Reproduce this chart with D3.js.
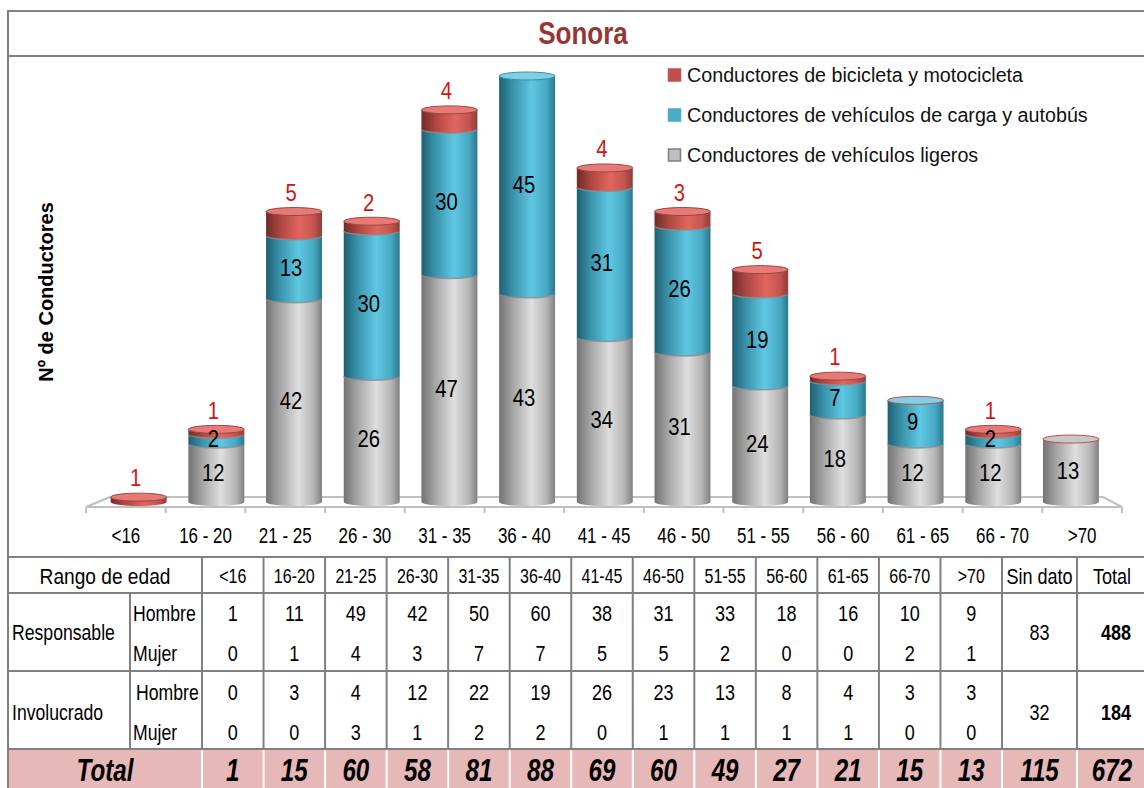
<!DOCTYPE html>
<html><head><meta charset="utf-8">
<script src="https://cdn.jsdelivr.net/npm/d3@7"></script>
<style>body{margin:0;background:#fff;}svg{display:block;font-family:"Liberation Sans",Arial,sans-serif;}</style>
</head><body>
<svg id="c" width="1144" height="788"></svg>
<script>
const categories = ["<16","16 - 20","21 - 25","26 - 30","31 - 35","36 - 40","41 - 45","46 - 50","51 - 55","56 - 60","61 - 65","66 - 70",">70"];
const seriesNames = ["Conductores de vehículos ligeros","Conductores de vehículos de carga y autobús","Conductores de bicicleta y motocicleta"];
const ligeros = [0,12,42,26,47,43,34,31,24,18,12,12,13];
const carga   = [0,2,13,30,30,45,31,26,19,7,9,2,0];
const bici    = [1,1,5,2,4,0,4,3,5,1,0,1,0];

const tableCols = ["<16","16-20","21-25","26-30","31-35","36-40","41-45","46-50","51-55","56-60","61-65","66-70",">70"];
const respHombre = [1,11,49,42,50,60,38,31,33,18,16,10,9];
const respMujer  = [0,1,4,3,7,7,5,5,2,0,0,2,1];
const invHombre  = [0,3,4,12,22,19,26,23,13,8,4,3,3];
const invMujer   = [0,0,3,1,2,2,0,1,1,1,1,0,0];
const sinDato = [83,32];
const totals = [488,184];
const totalRow = [1,15,60,58,81,88,69,60,49,27,21,15,13,115,672];

const svg = d3.select("#c");
const GRID = "#808080";

function txt(g, x, y, s, o) {
  o = o || {};
  const fs = o.fs || 18, sx = o.sx || 1;
  return g.append("text")
    .attr("transform", `translate(${x},${y}) scale(${sx},1)`)
    .attr("text-anchor", o.anchor || "middle")
    .attr("dy", "0.36em")
    .attr("font-size", fs)
    .attr("font-weight", o.bold ? "bold" : "normal")
    .attr("font-style", o.italic ? "italic" : "normal")
    .attr("fill", o.fill || "#000")
    .text(s);
}

// defs: gradients
const defs = svg.append("defs");
const palettes = [
  {id:"gGray", stops:[["0%","#737373"],["25%","#a6a6a6"],["58%","#dedede"],["85%","#b5b5b5"],["100%","#808080"]], cap:"#c8c8c8", line:"#8a8a8a"},
  {id:"gBlue", stops:[["0%","#1f6072"],["25%","#3a93ac"],["58%","#5fc7e2"],["85%","#47a8c3"],["100%","#2a778c"]], cap:"#7dd0e6", line:"#3b8da3"},
  {id:"gRed",  stops:[["0%","#702b29"],["25%","#ad4642"],["60%","#e2665f"],["85%","#c25550"],["100%","#903c38"]], cap:"#e77a74", line:"#9a4744"}
];
palettes.forEach(p => {
  const lg = defs.append("linearGradient").attr("id", p.id).attr("x1","0").attr("x2","1").attr("y1","0").attr("y2","0");
  p.stops.forEach(s => lg.append("stop").attr("offset", s[0]).attr("stop-color", s[1]));
});

// frame
svg.append("line").attr("x1",8).attr("x2",1144).attr("y1",11).attr("y2",11).attr("stroke",GRID).attr("stroke-width",2);
svg.append("line").attr("x1",8).attr("x2",1144).attr("y1",56).attr("y2",56).attr("stroke",GRID).attr("stroke-width",2);
svg.append("line").attr("x1",8).attr("x2",8).attr("y1",10).attr("y2",788).attr("stroke",GRID).attr("stroke-width",2);
txt(svg, 583, 33, "Sonora", {fs:31, sx:0.84, bold:true, fill:"#953735"});

// scales
const xBar = d3.scaleBand().domain(categories).range([99.8, 1109.8]).paddingInner(0.28).paddingOuter(0.14);
const xAxisBand = d3.scaleBand().domain(categories).range([86, 1122]);
const y = d3.scaleLinear().domain([0, 88]).range([502, 76]);

// floor
const floor = svg.append("g");
floor.append("path").attr("d", `M86,507 L110,497 L1103,497 L1122,507 Z`).attr("fill","#fff").attr("stroke","#c0c0c0").attr("stroke-width",2);
const tickPos = categories.map(c => xAxisBand(c)).concat([1122]);
floor.selectAll("line.tk").data(tickPos).enter().append("line")
  .attr("x1", d => d).attr("x2", d => d).attr("y1", 507).attr("y2", 513)
  .attr("stroke","#c0c0c0").attr("stroke-width",2);

// axis labels via d3 axis
const axisG = svg.append("g").attr("transform","translate(0,507)")
  .call(d3.axisBottom(xAxisBand).tickSize(0).tickPadding(0));
axisG.select(".domain").remove();
axisG.selectAll(".tick text").remove();
axisG.selectAll(".tick").each(function(d){
  txt(d3.select(this), 0, 28, d, {fs:22, sx:0.77});
});

// stacked cylinders
const stackData = categories.map((c,i) => ({cat:c, v:[ligeros[i], carga[i], bici[i]]}));
const ry = 4;
const bars = svg.append("g");
stackData.forEach(d => {
  const x0 = xBar(d.cat), w = xBar.bandwidth(), x1 = x0 + w, cx = x0 + w/2, rx = w/2;
  let cum = 0, topIdx = -1;
  d.v.forEach((v, si) => {
    if (v <= 0) return;
    const yB = y(cum), yT = y(cum + v);
    const p = palettes[si];
    bars.append("path")
      .attr("d", `M${x0},${yT} L${x0},${yB} A${rx},${ry} 0 0 0 ${x1},${yB} L${x1},${yT} Z`)
      .attr("fill", `url(#${p.id})`);
    if (cum > 0) {
      bars.append("path")
        .attr("d", `M${x0},${yB} A${rx},${ry} 0 0 0 ${x1},${yB}`)
        .attr("fill","none").attr("stroke","#8d8d8d").attr("stroke-width",1.5).attr("opacity",0.8);
    }
    cum += v; topIdx = si;
  });
  if (topIdx >= 0) {
    const p = palettes[topIdx];
    bars.append("ellipse").attr("cx", cx).attr("cy", y(cum)).attr("rx", rx).attr("ry", ry)
      .attr("fill", p.cap).attr("stroke", d.v[2] === 0 && d.cat !== "36 - 40" ? "#c0504d" : p.line).attr("stroke-width", 1);
  }
  // labels
  let c2 = 0;
  d.v.forEach((v, si) => {
    if (v <= 0) { return; }
    if (si < 2) {
      txt(bars, cx - 3, y(c2 + v/2), String(v), {fs:23, sx:0.88});
    } else {
      txt(bars, cx - 3, y(c2 + v) - 19, String(v), {fs:23, sx:0.88, fill:"#d01515"});
    }
    c2 += v;
  });
});

// y title
svg.append("text").attr("transform","translate(46,292) rotate(-90)").attr("text-anchor","middle")
  .attr("dy","0.36em").attr("font-size",20).attr("font-weight","bold").text("Nº de Conductores");

// legend
const legendItems = [
  {name: seriesNames[2], fill:"#c0504d", stroke:"#c0504d"},
  {name: seriesNames[1], fill:"#4bacc6", stroke:"#4bacc6"},
  {name: seriesNames[0], fill:"#c0c0c0", stroke:"#7f7f7f"}
];
const lg = svg.append("g");
legendItems.forEach((it, i) => {
  const cy = 75 + i*40;
  lg.append("rect").attr("x", 668.5).attr("y", cy-6).attr("width", 12).attr("height", 12)
    .attr("fill", it.fill).attr("stroke", it.stroke).attr("stroke-width", 1.5);
  txt(lg, 687, cy, it.name, {fs:20, sx:0.985, anchor:"start", fill:"#111"});
});

// table
const T = svg.append("g");
const colX = d3.scaleBand().domain(tableCols).range([202, 1002]);
// total row background
T.append("rect").attr("x", 9).attr("y", 749).attr("width", 1135).attr("height", 39).attr("fill", "#e6b8b7");
// horizontal lines
[557,593,671,749].forEach(yy => T.append("line").attr("x1",8).attr("x2",1144).attr("y1",yy).attr("y2",yy).attr("stroke",GRID).attr("stroke-width",2));
// vertical lines
const vlines = tableCols.map(c => colX(c)).concat([1002, 1077]);
vlines.forEach(xx => {
  T.append("line").attr("x1",xx).attr("x2",xx).attr("y1",557).attr("y2",749).attr("stroke",GRID).attr("stroke-width",2);
  T.append("line").attr("x1",xx).attr("x2",xx).attr("y1",750).attr("y2",788).attr("stroke","#fff").attr("stroke-width",2);
});
T.append("line").attr("x1",130).attr("x2",130).attr("y1",593).attr("y2",749).attr("stroke",GRID).attr("stroke-width",2);

const tfs = 21.5, tsx = 0.84;
txt(T, 105, 576, "Rango de edad", {fs:22, sx:0.87});
tableCols.forEach(c => txt(T, colX(c) + colX.bandwidth()/2, 576, c, {fs:20, sx:0.8}));
txt(T, 1039.5, 576, "Sin dato", {fs:tfs, sx:tsx});
txt(T, 1112, 576, "Total", {fs:tfs, sx:tsx});

txt(T, 12, 632, "Responsable", {fs:tfs, sx:0.82, anchor:"start"});
txt(T, 12, 712, "Involucrado", {fs:tfs, sx:0.82, anchor:"start"});
txt(T, 133, 613, "Hombre", {fs:tfs, sx:0.82, anchor:"start"});
txt(T, 133, 653, "Mujer", {fs:tfs, sx:0.82, anchor:"start"});
txt(T, 136, 692, "Hombre", {fs:tfs, sx:0.82, anchor:"start"});
txt(T, 133, 732, "Mujer", {fs:tfs, sx:0.82, anchor:"start"});

const rowsData = [[respHombre,613],[respMujer,653],[invHombre,692],[invMujer,732]];
rowsData.forEach(([arr, yy]) => {
  arr.forEach((v, i) => txt(T, colX(tableCols[i]) + colX.bandwidth()/2, yy, String(v), {fs:tfs, sx:tsx}));
});
txt(T, 1039.5, 632, String(sinDato[0]), {fs:tfs, sx:tsx});
txt(T, 1039.5, 712, String(sinDato[1]), {fs:tfs, sx:tsx});
txt(T, 1116, 632, String(totals[0]), {fs:tfs, sx:tsx, bold:true});
txt(T, 1116, 712, String(totals[1]), {fs:tfs, sx:tsx, bold:true});

txt(T, 105, 770, "Total", {fs:31, sx:0.78, bold:true, italic:true});
const totX = tableCols.map(c => colX(c) + colX.bandwidth()/2).concat([1039.5, 1112]);
totalRow.forEach((v, i) => txt(T, totX[i], 770, String(v), {fs:31, sx:0.78, bold:true, italic:true}));
</script>
</body></html>
